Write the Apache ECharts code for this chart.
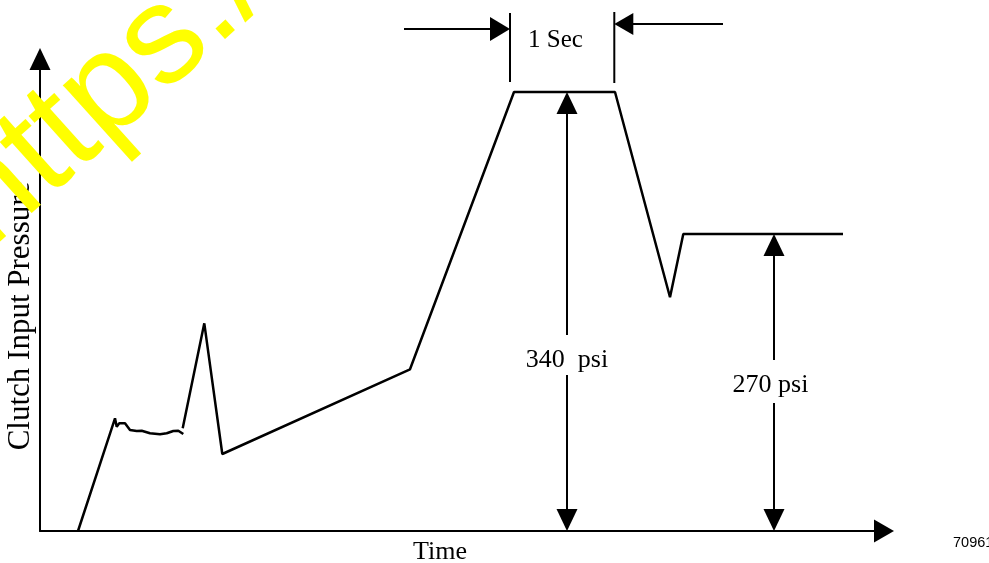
<!DOCTYPE html>
<html><head><meta charset="utf-8">
<script src="https://cdn.jsdelivr.net/npm/echarts@6/dist/echarts.min.js"></script>
<style>html,body{margin:0;padding:0;background:#fff}#c{width:989px;height:563px}</style>
</head><body><div id="c"></div>
<script>
// Schematic trace: time (arbitrary units) vs clutch input pressure (arbitrary units)
const rampTime     = [38, 75, 76.7, 79.3, 85, 90, 96.7, 101.7, 110, 120, 126.7, 133.3, 138.3, 143.3];
const rampPressure = [0, 112.7, 104.3, 107.7, 107.7, 101, 100, 100.3, 97.7, 96.7, 97.7, 100, 100.3, 97];
const shiftTime     = [142.7, 164.3, 182.3, 370, 474, 575, 630, 643.3, 803];
const shiftPressure = [102.7, 207.7, 77, 161.7, 439, 439, 233.7, 297, 297];

// Annotations
const peakLabel = '340  psi';
const holdLabel = '270 psi';
const windowLabel = '1 Sec';
const peakTime = 527, peakValue = 439;
const holdTime = 734, holdValue = 297;
const windowStart = 470, windowEnd = 574.3;

const SERIF = '"Liberation Serif", "Times New Roman", serif';
const SANS = '"Liberation Sans", Arial, sans-serif';

const chart = echarts.init(document.getElementById('c'), null, {renderer: 'canvas'});

function axisCommon(symSize) {
  return {
    type: 'value',
    axisLine: {show: true, onZero: false, symbol: ['none', 'triangle'], symbolSize: symSize,
      lineStyle: {color: '#000', width: 2}},
    axisTick: {show: false}, axisLabel: {show: false}, splitLine: {show: false}
  };
}

chart.setOption({
  animation: false,
  backgroundColor: '#fff',
  grid: {left: 40, right: 105, top: 59, bottom: 32, outerBoundsMode: 'none', containLabel: false},
  xAxis: Object.assign(axisCommon([23, 20]), {
    min: 0, max: 844,
    name: 'Time', nameLocation: 'middle', nameGap: 8,
    nameTextStyle: {fontFamily: SERIF, fontSize: 26, color: '#000', padding: [0, 44, 0, 0]}
  }),
  yAxis: Object.assign(axisCommon([21, 22]), {
    min: 0, max: 472,
    name: 'Clutch Input Pressure', nameLocation: 'middle', nameGap: 4, nameRotate: 90,
    nameTextStyle: {fontFamily: SERIF, fontSize: 31, color: '#000', padding: [0, 42, 0, 0]}
  }),
  series: [
    {type: 'line', data: rampTime.map((t, i) => [t, rampPressure[i]]), showSymbol: false,
     lineStyle: {color: '#000', width: 2.5}, silent: true},
    {type: 'line', data: shiftTime.map((t, i) => [t, shiftPressure[i]]), showSymbol: false,
     lineStyle: {color: '#000', width: 2.5}, silent: true}
  ]
});

function P(x, y) { return chart.convertToPixel({seriesIndex: 0}, [x, y]); }
const els = [];
function seg(a, b, w) {
  els.push({type: 'line', shape: {x1: a[0], y1: a[1], x2: b[0], y2: b[1]},
    style: {stroke: '#000', lineWidth: w || 2}, z: 50});
}
function head(tip, dir, len, wid) {
  const bx = tip[0] - dir[0] * len, by = tip[1] - dir[1] * len;
  const nx = -dir[1], ny = dir[0];
  els.push({type: 'polygon', shape: {points: [[tip[0], tip[1]],
    [bx + nx * wid / 2, by + ny * wid / 2], [bx - nx * wid / 2, by - ny * wid / 2]]},
    style: {fill: '#000'}, z: 50});
}
function vArrow(t, top, gapTop, gapBot, labelT, labelV, label) {
  const a = P(t, top), g1 = P(t, gapTop), g2 = P(t, gapBot), b = P(t, 0);
  seg([a[0], a[1] + 18], g1);
  seg(g2, [b[0], b[1] - 18]);
  head(a, [0, -1], 22, 21);
  head(b, [0, 1], 22, 21);
  const lp = P(labelT, labelV);
  els.push({type: 'text', x: lp[0], y: lp[1], z: 50,
    style: {text: label, font: '26px ' + SERIF, fill: '#000', align: 'center', verticalAlign: 'middle'}});
}
vArrow(peakTime, peakValue, 196, 156, peakTime, 171, peakLabel);
vArrow(holdTime, holdValue, 171, 128, holdTime - 3.5, 146, holdLabel);

// 1 Sec window markers
seg(P(windowStart, 449), P(windowStart, 518));
seg(P(windowEnd, 448), P(windowEnd, 519));
const l1 = P(364, 502), l2 = P(windowStart, 502);
seg(l1, [l2[0] - 15, l2[1]]); head(l2, [1, 0], 20, 24);
const r1 = P(683, 507), r2 = P(windowEnd, 507);
seg(r1, [r2[0] + 15, r2[1]]); head(r2, [-1, 0], 19, 22);
const wp = P(515.5, 491);
els.push({type: 'text', x: wp[0], y: wp[1], z: 50,
  style: {text: windowLabel, font: '25px ' + SERIF, fill: '#000', align: 'center', verticalAlign: 'middle'}});

// figure number
els.push({type: 'text', x: 953, y: 542.5, z: 50,
  style: {text: '70961', font: '14.5px ' + SANS, fill: '#000', align: 'left', verticalAlign: 'middle'}});

// watermark
els.push({type: 'text', x: -36, y: 222, rotation: 42 * Math.PI / 180, z: 100,
  style: {text: 'https://', font: '140px ' + SANS, fill: '#ffff00', align: 'left', verticalAlign: 'middle'}});

chart.setOption({graphic: {elements: els}});
</script>
</body></html>
